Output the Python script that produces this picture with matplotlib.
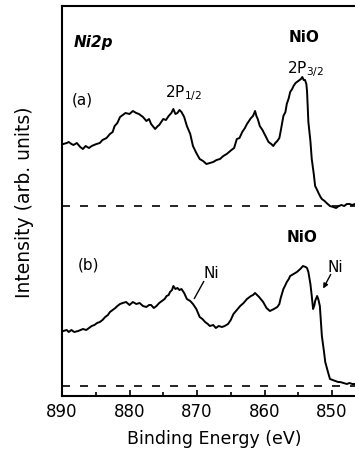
import matplotlib

matplotlib.use("Agg")

import matplotlib.pyplot as plt
from matplotlib.ticker import MultipleLocator

plt.rcParams["font.family"] = ["DejaVu Sans"]

# spectrum (a): binding energy (eV) and intensity (arb. units)
energy_a = [889.8, 889.3, 889.0, 888.6, 888.3, 887.8, 887.3, 886.9, 886.5, 886.0, 885.6, 884.9,
            884.4, 884.0, 883.4, 882.9, 882.5, 882.2, 881.8, 881.4, 881.0, 880.6, 880.0, 879.5,
            879.0, 878.6, 878.0, 877.5, 877.1, 876.8, 876.2, 875.8, 875.6, 875.3, 875.0, 874.6,
            874.2, 873.8, 873.5, 873.2, 872.9, 872.6, 872.3, 871.9, 871.5, 871.0, 870.6, 870.1,
            869.6, 869.1, 868.6, 868.1, 867.6, 867.1, 866.6, 866.1, 865.6, 864.9, 864.5, 864.1,
            863.7, 863.3, 862.9, 862.6, 862.2, 862.0, 861.7, 861.4, 861.2, 861.0, 860.7, 860.3,
            860.0, 859.7, 859.4, 859.0, 858.7, 858.4, 858.1, 857.8, 857.6, 857.2, 856.9, 856.7,
            856.4, 856.2, 855.9, 855.7, 855.4, 855.2, 854.8, 854.6, 854.4, 854.2, 854.0, 853.8,
            853.7, 853.5, 853.2, 853.0, 852.7, 852.5, 852.2, 852.0, 851.7, 851.5, 851.1, 850.8,
            850.3, 849.8, 849.4, 849.0, 848.6, 848.2, 847.8, 847.4, 847.0, 846.6]
intensity_a = [252, 253, 254, 252, 251, 253, 249, 247, 250, 248, 250, 252,
               253, 256, 258, 262, 264, 270, 273, 279, 281, 283, 282, 285,
               283, 282, 279, 275, 277, 272, 267, 270, 271, 274, 277, 276,
               280, 283, 287, 282, 283, 286, 284, 279, 270, 262, 250, 243,
               237, 235, 232, 233, 234, 236, 237, 240, 242, 246, 248, 257,
               258, 264, 268, 272, 276, 278, 280, 285, 280, 277, 270, 266,
               262, 258, 254, 252, 250, 253, 255, 258, 265, 280, 284, 292,
               298, 304, 307, 310, 313, 314, 316, 317, 319, 316, 316, 312,
               305, 274, 255, 237, 222, 210, 206, 203, 199, 197, 195, 193,
               190, 189, 188, 190, 191, 190, 192, 192, 191, 192]

# spectrum (b)
energy_b = [889.8, 889.3, 889.0, 888.6, 888.2, 887.6, 886.9, 886.4, 886.0, 885.6, 885.2, 884.8,
            884.4, 884.0, 883.6, 883.2, 882.9, 882.5, 882.1, 881.8, 881.4, 881.0, 880.5, 880.0,
            879.5, 879.0, 878.5, 878.0, 877.5, 877.1, 876.8, 876.4, 876.0, 875.6, 875.2, 874.8,
            874.5, 874.2, 874.0, 873.7, 873.5, 873.2, 872.9, 872.6, 872.3, 871.9, 871.5, 871.0,
            870.6, 870.1, 869.6, 869.2, 868.8, 868.4, 868.1, 867.6, 867.2, 866.8, 866.3, 865.9,
            865.4, 865.0, 864.6, 864.1, 863.6, 863.1, 862.6, 862.0, 861.7, 861.4, 861.1, 860.8,
            860.2, 859.7, 859.2, 858.9, 858.6, 858.1, 857.8, 857.6, 857.2, 856.9, 856.7, 856.4,
            856.2, 855.7, 855.2, 854.7, 854.3, 853.9, 853.7, 853.5, 853.2, 853.0, 852.8, 852.6,
            852.5, 852.2, 852.0, 851.8, 851.5, 851.2, 851.0, 850.6, 850.3, 849.9, 849.5, 849.1,
            848.8, 848.3, 847.8, 847.4, 847.0, 846.6]
intensity_b = [65, 66, 64, 66, 64, 65, 67, 66, 68, 70, 71, 73,
               74, 76, 79, 81, 84, 86, 88, 90, 92, 93, 94, 91,
               94, 92, 93, 90, 89, 91, 91, 88, 90, 93, 95, 97,
               100, 101, 104, 106, 110, 107, 108, 106, 107, 103, 97, 95,
               92, 87, 79, 77, 74, 72, 70, 71, 68, 70, 69, 70,
               72, 76, 82, 86, 90, 93, 97, 100, 101, 103, 101, 99,
               94, 88, 85, 86, 87, 89, 92, 98, 107, 111, 114, 117,
               120, 122, 124, 127, 130, 129, 128, 124, 112, 100, 87, 91,
               95, 100, 96, 90, 60, 45, 34, 24, 17, 16, 15, 14,
               14, 13, 12, 13, 12, 12]

baseline_a = 190
baseline_b = 10

fig = plt.figure(figsize=(3.55, 4.52), dpi=100)
ax = fig.add_axes([62 / 355, 55 / 452, 303.75 / 355, 390 / 452])

ax.plot(energy_a, intensity_a, color="black", lw=1.4)
ax.plot(energy_b, intensity_b, color="black", lw=1.4)
ax.axhline(baseline_a, color="black", lw=1.2, ls=(0, (4.8, 6)), zorder=1)
ax.axhline(baseline_b, color="black", lw=1.2, ls=(0, (4.8, 6)), zorder=1)

ax.set_xlim(890, 845)
ax.set_ylim(0, 390)
ax.set_yticks([])
ax.xaxis.set_major_locator(MultipleLocator(10))
ax.xaxis.set_minor_locator(MultipleLocator(5))
ax.tick_params(axis="x", which="both", direction="in", labelsize=12, width=1.2, pad=4)
ax.tick_params(axis="x", which="major", length=4)
ax.tick_params(axis="x", which="minor", length=3)
for s in ax.spines.values():
    s.set_linewidth(1.5)

ax.set_xlabel("Binding Energy (eV)", fontsize=12.5, labelpad=7)
ax.set_ylabel("Intensity (arb. units)", fontsize=13.5, labelpad=20)

txt = dict(fontsize=11, color="black", ha="left", va="center")
ax.text(888.3, 354, "Ni2p", style="italic", weight="bold", **txt)
ax.text(856.5, 360, "NiO", weight="bold", **txt)
ax.text(856.6, 328, r"2P$_{\mathregular{3/2}}$", **txt)
ax.text(888.5, 297, "(a)", **txt)
ax.text(874.7, 304, r"2P$_{\mathregular{1/2}}$", **txt)
ax.text(856.7, 159, "NiO", weight="bold", **txt)
ax.text(887.6, 132, "(b)", **txt)
ax.text(869.1, 124, "Ni", **txt)
ax.text(850.6, 130, "Ni", **txt)
ax.annotate("", xy=(870.6, 95), xytext=(868.8, 117),
            arrowprops=dict(arrowstyle="-", color="black", lw=1.0))
ax.annotate("", xy=(851.5, 105), xytext=(850.0, 124),
            arrowprops=dict(arrowstyle="-|>", color="black", lw=1.0, mutation_scale=7))

fig.savefig("out.png", dpi=100)
